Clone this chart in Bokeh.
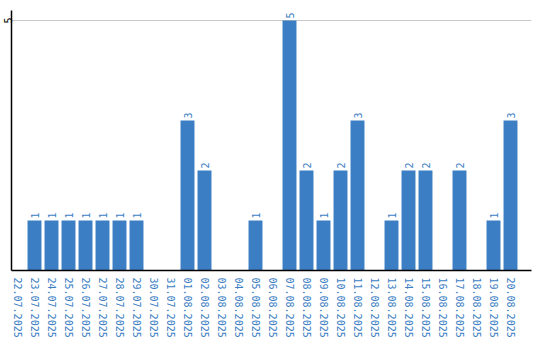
import math
from bokeh.plotting import figure
from bokeh.models import ColumnDataSource, FixedTicker, Range1d
from bokeh.core.properties import value
from bokeh.embed import file_html
from bokeh.resources import INLINE

dates = ["22.07.2025", "23.07.2025", "24.07.2025", "25.07.2025", "26.07.2025",
         "27.07.2025", "28.07.2025", "29.07.2025", "30.07.2025", "31.07.2025",
         "01.08.2025", "02.08.2025", "03.08.2025", "04.08.2025", "05.08.2025",
         "06.08.2025", "07.08.2025", "08.08.2025", "09.08.2025", "10.08.2025",
         "11.08.2025", "12.08.2025", "13.08.2025", "14.08.2025", "15.08.2025",
         "16.08.2025", "17.08.2025", "18.08.2025", "19.08.2025", "20.08.2025"]
counts = [0, 1, 1, 1, 1, 1, 1, 1, 0, 0,
          3, 2, 0, 0, 1, 0, 5, 2, 1, 2,
          3, 0, 1, 2, 2, 0, 2, 0, 1, 3]
y_ticks = [5]

BLUE = "#3b7ec3"
FONT = "DejaVu Sans Mono"

xs = list(range(len(dates)))
src = ColumnDataSource(dict(x=xs, y=counts))
lab_idx = [i for i, c in enumerate(counts) if c > 0]
lsrc = ColumnDataSource(dict(x=[xs[i] for i in lab_idx],
                             y=[counts[i] for i in lab_idx],
                             t=[str(counts[i]) for i in lab_idx]))

p = figure(width=540, height=340, output_backend="svg", toolbar_location=None,
           x_range=Range1d(-0.353, 30.235), y_range=Range1d(0, 5.2),
           min_border_left=0, min_border_right=9, min_border_top=10, min_border_bottom=0)
p.outline_line_color = None
p.background_fill_color = "white"
p.border_fill_color = "white"

p.vbar(x="x", top="y", width=0.82, bottom=0, source=src, fill_color=BLUE, line_color=None)
p.text(x="x", y="y", text="t", source=lsrc, angle=math.pi / 2,
       text_align="left", text_baseline="middle", y_offset=-2,
       text_font=value(FONT), text_font_size="10px", text_color=BLUE)

p.xaxis.ticker = FixedTicker(ticks=xs)
p.xaxis.major_label_overrides = {i: d for i, d in enumerate(dates)}
p.xaxis.major_label_orientation = "vertical"
p.xaxis.major_label_text_font = FONT
p.xaxis.major_label_text_font_size = "10px"
p.xaxis.major_label_text_color = BLUE
p.xaxis.major_tick_line_color = None
p.xaxis.minor_tick_line_color = None
p.xaxis.major_tick_out = 0
p.xaxis.major_tick_in = 0
p.xaxis.major_label_standoff = 7
p.xaxis.axis_line_color = "black"
p.xaxis.axis_line_width = 1.5

p.yaxis.ticker = FixedTicker(ticks=y_ticks)
p.yaxis.major_label_orientation = "parallel"
p.yaxis.major_label_text_font = FONT
p.yaxis.major_label_text_font_size = "10px"
p.yaxis.major_label_text_color = "black"
p.yaxis.major_tick_line_color = None
p.yaxis.minor_tick_line_color = None
p.yaxis.major_tick_out = 0
p.yaxis.major_tick_in = 0
p.yaxis.major_label_standoff = 0
p.yaxis.axis_line_color = "black"
p.yaxis.axis_line_width = 1.5

p.xgrid.grid_line_color = None
p.ygrid.ticker = FixedTicker(ticks=y_ticks)
p.ygrid.grid_line_color = "#c8c8c8"
p.ygrid.grid_line_width = 1

open("out.html", "w").write(file_html(p, INLINE))
